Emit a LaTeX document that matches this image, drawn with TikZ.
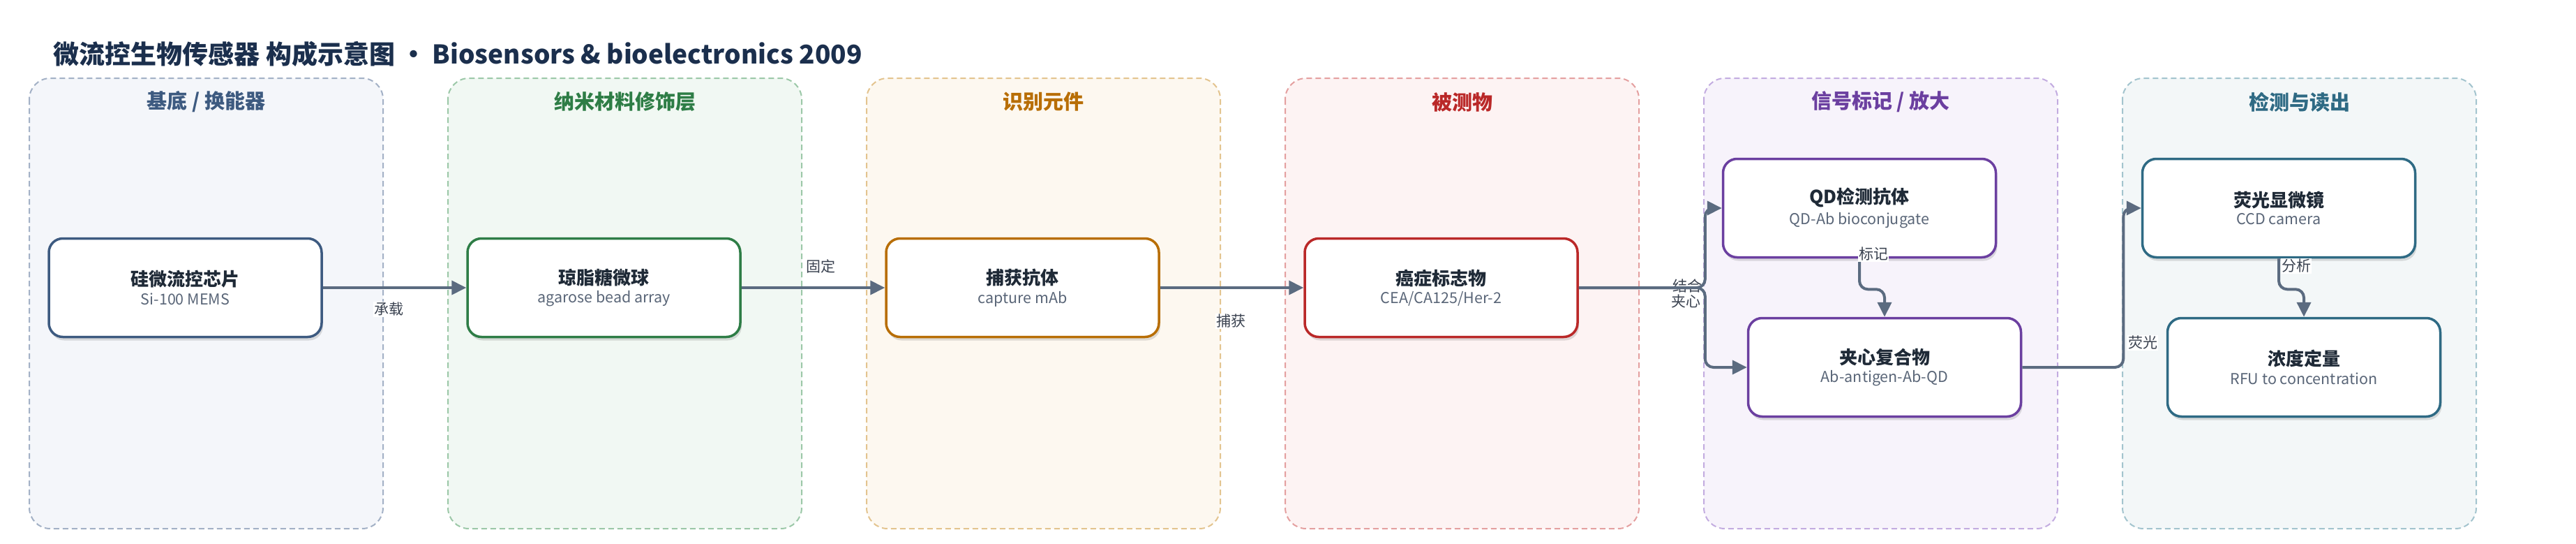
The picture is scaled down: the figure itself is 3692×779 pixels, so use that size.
\documentclass[tikz,border=0pt]{standalone}
\usepackage{fontspec}
\setmainfont{Noto Sans CJK SC}
\usepackage{xcolor}
\usepackage{tikz}
\usetikzlibrary{positioning,arrows.meta,shadows}

\definecolor{headC}{HTML}{1B2F4D}
\definecolor{nameC}{HTML}{1F2A37}
\definecolor{subC}{HTML}{5A6678}
\definecolor{edgeC}{HTML}{5B6B80}
\definecolor{lblC}{HTML}{3A4250}
\definecolor{chipC}{HTML}{3D5A80}
\definecolor{chipF}{HTML}{F4F6FA}
\definecolor{chipD}{HTML}{A3B1C6}
\definecolor{nanoC}{HTML}{2E7D46}
\definecolor{nanoF}{HTML}{F1F8F3}
\definecolor{nanoD}{HTML}{9CC8A8}
\definecolor{recoC}{HTML}{B86E05}
\definecolor{recoF}{HTML}{FDF8F0}
\definecolor{recoD}{HTML}{E3C48F}
\definecolor{anaC}{HTML}{BA2828}
\definecolor{anaF}{HTML}{FDF3F3}
\definecolor{anaD}{HTML}{E4A0A0}
\definecolor{sigC}{HTML}{6B3FA0}
\definecolor{sigF}{HTML}{F7F3FB}
\definecolor{sigD}{HTML}{C3ACE0}
\definecolor{detC}{HTML}{2E6A84}
\definecolor{detF}{HTML}{F3F7F8}
\definecolor{detD}{HTML}{A3C4CE}

\newcommand{\boxname}[1]{{\fontsize{26}{30}\selectfont\bfseries\color{nameC}#1}}
\newcommand{\boxsub}[1]{{\fontsize{21.5}{25}\selectfont\color{subC}#1}}

\tikzset{
  panel/.style={rounded corners=30pt, dash pattern=on 8pt off 5pt, line width=2pt},
  ptitle/.style={font=\fontsize{29}{34}\selectfont\bfseries},
  box/.style={draw, fill=white, line width=3.5pt, rounded corners=20pt,
    minimum width=391pt, minimum height=141pt, align=center,
    drop shadow={shadow xshift=2pt, shadow yshift=-5pt, opacity=0.12, fill=black}},
  edge/.style={draw=edgeC, line width=4pt, rounded corners=12pt,
    -{Triangle[length=21pt,width=20pt]}},
  elabel/.style={fill=white, inner sep=1pt, text=lblC, font=\fontsize{21}{24}\selectfont},
}

\begin{document}
\begin{tikzpicture}[x=1pt,y=-1pt]
	\useasboundingbox (0,0) rectangle (3692,779);

	\node[anchor=west, text=headC, font=\fontsize{37}{43}\selectfont\bfseries] (head) at (73,77)
		{微流控生物传感器 构成示意图 · Biosensors \& bioelectronics 2009};

	\draw[panel, fill=chipF, draw=chipD] (42,112) rectangle (549,757);
	\draw[panel, fill=nanoF, draw=nanoD] (642,112) rectangle (1149,757);
	\draw[panel, fill=recoF, draw=recoD] (1242,112) rectangle (1749,757);
	\draw[panel, fill=anaF, draw=anaD] (1842,112) rectangle (2349,757);
	\draw[panel, fill=sigF, draw=sigD] (2442,112) rectangle (2949,757);
	\draw[panel, fill=detF, draw=detD] (3042,112) rectangle (3549,757);

	\node[ptitle, text=chipC] (tChip) at (295.5,146) {基底 / 换能器};
	\node[ptitle, text=nanoC] (tNano) at (895.5,146) {纳米材料修饰层};
	\node[ptitle, text=recoC] (tReco) at (1495.5,146) {识别元件};
	\node[ptitle, text=anaC] (tAna) at (2095.5,146) {被测物};
	\node[ptitle, text=sigC] (tSig) at (2695.5,146) {信号标记 / 放大};
	\node[ptitle, text=detC] (tDet) at (3295.5,146) {检测与读出};

	\node[box, draw=chipC] (chip) at (265.5,412) {\boxname{硅微流控芯片}\\[6pt]\boxsub{Si-100 MEMS}};
	\node[box, draw=nanoC] (bead) at (865.5,412) {\boxname{琼脂糖微球}\\[6pt]\boxsub{agarose bead array}};
	\node[box, draw=recoC] (capAb) at (1465.5,412) {\boxname{捕获抗体}\\[6pt]\boxsub{capture mAb}};
	\node[box, draw=anaC] (marker) at (2065.5,412) {\boxname{癌症标志物}\\[6pt]\boxsub{CEA/CA125/Her-2}};
	\node[box, draw=sigC] (qdAb) at (2665,298) {\boxname{QD检测抗体}\\[6pt]\boxsub{QD-Ab bioconjugate}};
	\node[box, draw=sigC] (sandw) at (2701,526) {\boxname{夹心复合物}\\[6pt]\boxsub{Ab-antigen-Ab-QD}};
	\node[box, draw=detC] (ccd) at (3266,298) {\boxname{荧光显微镜}\\[6pt]\boxsub{CCD camera}};
	\node[box, draw=detC] (conc) at (3302,526) {\boxname{浓度定量}\\[6pt]\boxsub{RFU to concentration}};

	\node[elabel] (lBind) at (2418,409) {结合};

	\draw[edge] (chip.east) -- (bead.west);
	\draw[edge] (bead.east) -- (capAb.west);
	\draw[edge] (capAb.east) -- (marker.west);
	\draw[edge] (marker.east) -- ++(181,0) |- (qdAb.west);
	\draw[edge] (marker.east) -- ++(181,0) |- (sandw.west);
	\draw[edge] (qdAb.south) -- ++(0,44) -| (sandw.north);
	\draw[edge] (sandw.east) -- ++(145,0) |- (ccd.west);
	\draw[edge] (ccd.south) -- ++(0,44) -| (conc.north);

	\node[elabel] (lCarry) at (557,443) {承载};
	\node[elabel] (lFix) at (1176,381) {固定};
	\node[elabel] (lCatch) at (1764,460) {捕获};
	\node[elabel] (lSand) at (2416,432) {夹心};
	\node[elabel] (lTag) at (2685,364) {标记};
	\node[elabel] (lFluo) at (3071,491) {荧光};
	\node[elabel] (lAnal) at (3291,381) {分析};
\end{tikzpicture}
\end{document}
